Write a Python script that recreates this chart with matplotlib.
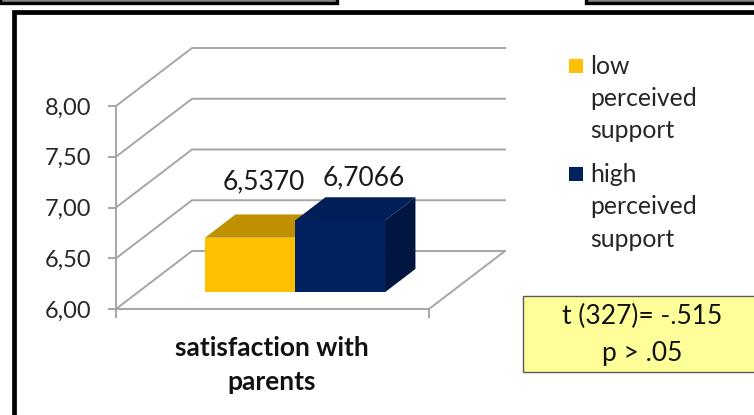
import matplotlib
matplotlib.use("Agg")
import matplotlib.pyplot as plt
from matplotlib.patches import Polygon, Rectangle

W, H = 754, 415

category = "satisfaction with\nparents"
series_names = ["low\nperceived\nsupport", "high\nperceived\nsupport"]
series_values = [6.5370, 6.7066]
value_labels = ["6,5370", "6,7066"]
series_front = ["#FFC000", "#002060"]
series_top = ["#BF9000", "#001E57"]
series_side = ["#BF9000", "#001540"]
yticks = [6.0, 6.5, 7.0, 7.5, 8.0]
ytick_labels = ["6,00", "6,50", "7,00", "7,50", "8,00"]
stats_text = "t (327)= -.515\np > .05"

GRID = "#A6A6A6"
FONT = "Lato"
plt.rcParams["font.family"] = [FONT, "DejaVu Sans"]


def px_rect(x0, y0, x1, y1, **kw):
    """Rectangle on the figure, given in image pixels (y down)."""
    return Rectangle((x0 / W, 1 - y1 / H), (x1 - x0) / W, (y1 - y0) / H,
                     transform=fig.transFigure, **kw)


def px_text(x, y, s, **kw):
    fig.text(x / W, 1 - y / H, s, **kw)


fig = plt.figure(figsize=(W / 100, H / 100), dpi=100, facecolor="white")

# outer frames of the slide panels
fig.add_artist(px_rect(0, -6, 337, 3.5, fc="#808080", ec="black", lw=2.4))
fig.add_artist(px_rect(586, -6, 770, 3.5, fc="#808080", ec="black", lw=2.4))
fig.add_artist(px_rect(13.5, 12.5, 770, 430, fc="none", ec="black", lw=3.4))

# front plane of the 3-D box: x 116..429, y 309..106 px
ax = fig.add_axes([116 / W, 1 - 309 / H, 313 / W, 203 / H])
ax.set_xlim(0, 1)
ax.set_ylim(6, 8)
ax.patch.set_visible(False)
for side in ("top", "right"):
    ax.spines[side].set_visible(False)
for side in ("left", "bottom"):
    ax.spines[side].set_color(GRID)
    ax.spines[side].set_linewidth(1.4)
ax.set_yticks(yticks, ytick_labels)
ax.set_xticks([0, 1], ["", ""])
ax.tick_params(axis="y", length=5.8, width=1.4, color=GRID, pad=12,
               labelsize=17, labelcolor="#262626")
ax.tick_params(axis="x", length=6.5, width=1.4, color=GRID)

# box depth in data units
depth_x = 76 / 313
depth_y = 58 / 101.5

for v in yticks:
    ax.plot([0, depth_x, 1 + depth_x], [v, v + depth_y, v + depth_y],
            color=GRID, lw=1.4, clip_on=False, zorder=1, solid_joinstyle="miter")
ax.plot([1, 1 + depth_x], [6, 6 + depth_y], color=GRID, lw=1.4, clip_on=False, zorder=1)

# bars sit part way into the box
bar_w = 90 / 313
bar_x0 = 67 / 313
bar_depth = 0.40
base_dx = 0.29 * depth_x
base_dy = 0.29 * depth_y
dx = bar_depth * depth_x
dy = bar_depth * depth_y

for i, (val, front, top, sd) in enumerate(zip(series_values, series_front, series_top, series_side)):
    left = bar_x0 + base_dx + i * bar_w
    right = left + bar_w
    v = val + base_dy
    b = 6 + base_dy
    ax.bar(left, val - 6, width=bar_w, bottom=b, align="edge", color=front, zorder=3 + i)
    ax.add_patch(Polygon([(left, v), (right, v), (right + dx, v + dy), (left + dx, v + dy)],
                         closed=True, fc=top, ec="none", clip_on=False, zorder=3 + i))
    ax.add_patch(Polygon([(right, b), (right + dx, b + dy), (right + dx, v + dy), (right, v)],
                         closed=True, fc=sd, ec="none", clip_on=False, zorder=3 + i))

# value labels sit where the original chart left them
label_px = [(264, 182), (364, 178)]
for (lx, ly), lab in zip(label_px, value_labels):
    px_text(lx, ly, lab, ha="center", va="center", fontsize=19, color="#1a1a1a")

px_text(272, 365, category, ha="center", va="center", fontsize=19, fontweight="bold",
        color="#111111", linespacing=1.45)

# legend
legend_y = [66, 174]
for y, name, color in zip(legend_y, series_names, series_front):
    fig.add_artist(px_rect(569, y - 7, 583, y + 7, fc=color, ec="none"))
    for j, line in enumerate(name.split("\n")):
        px_text(590, y + j * 32.5, line, ha="left", va="center", fontsize=17.8, color="#262626")

# t-test box
fig.add_artist(px_rect(523, 296, 770, 371.5, fc="#FFFF99", ec="#595959", lw=1.0))
px_text(642, 335, stats_text, ha="center", va="center", fontsize=19, color="#111111",
        linespacing=1.6)

fig.savefig("out.png", dpi=100)
